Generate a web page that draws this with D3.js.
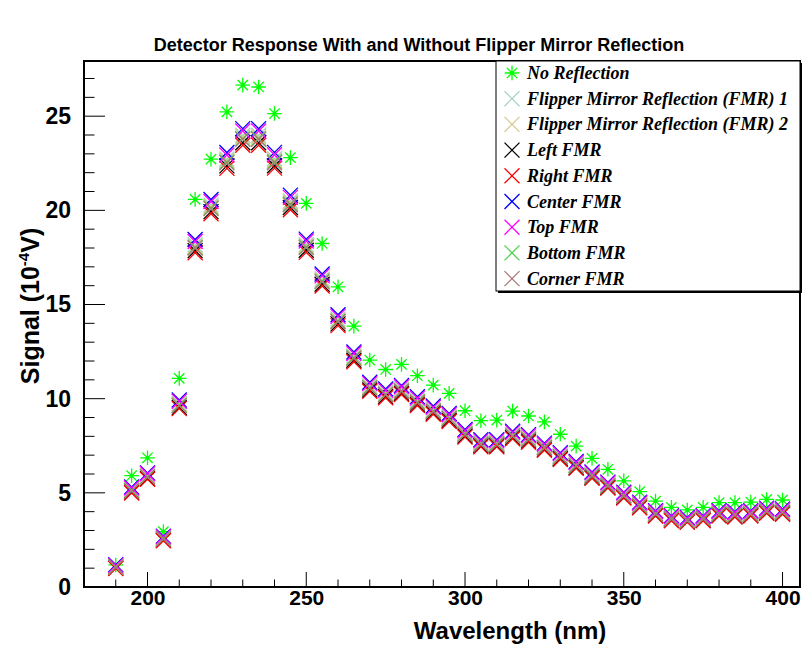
<!DOCTYPE html>
<html>
<head>
<meta charset="utf-8">
<script src="https://cdn.jsdelivr.net/npm/d3@7"></script>
<style>
  html, body { margin: 0; padding: 0; background: #fff; }
  svg { display: block; }
</style>
</head>
<body>
<div id="chart"></div>
<script>
(function () {
  'use strict';

  // ── Data ──
  var WAVELENGTHS = [190, 195, 200, 205, 210, 215, 220, 225, 230, 235, 240, 245, 250, 255, 260, 265, 270, 275, 280, 285,
    290, 295, 300, 305, 310, 315, 320, 325, 330, 335, 340, 345, 350, 355, 360, 365, 370, 375, 380, 385, 390, 395, 400];

  var NO_REFLECTION = [1.17, 5.91, 6.86, 2.94, 11.08, 20.58, 22.72, 25.23, 26.65, 26.55, 25.14, 22.80, 20.37, 18.24, 15.94, 13.85,
    12.05, 11.55, 11.82, 11.22, 10.72, 10.28, 9.36, 8.83, 8.86, 9.34, 9.08, 8.77, 8.11, 7.48, 6.83, 6.25, 5.64, 5.06, 4.56,
    4.23, 4.09, 4.23, 4.48, 4.48, 4.51, 4.65, 4.62];
  var FMR_1 = [1.10, 5.18, 5.92, 2.60, 9.75, 18.17, 20.28, 22.73, 23.99, 23.99, 22.74, 20.50, 18.19, 16.36, 14.23, 12.27, 10.68,
    10.33, 10.51, 9.92, 9.43, 9.04, 8.20, 7.67, 7.67, 8.11, 7.93, 7.49, 6.99, 6.52, 5.97, 5.44, 4.91, 4.38, 3.94, 3.68, 3.59,
    3.68, 3.94, 3.89, 3.94, 4.08, 4.03];
  var FMR_2 = [1.08, 5.15, 5.89, 2.58, 9.70, 18.10, 20.20, 22.65, 23.90, 23.90, 22.66, 20.42, 18.12, 16.30, 14.17, 12.22, 10.63,
    10.28, 10.46, 9.87, 9.39, 9.00, 8.16, 7.63, 7.63, 8.07, 7.89, 7.45, 6.95, 6.48, 5.94, 5.41, 4.88, 4.35, 3.91, 3.65, 3.56,
    3.65, 3.91, 3.86, 3.91, 4.05, 4.00];
  var LEFT_FMR = [1.01, 5.04, 5.77, 2.50, 9.54, 17.86, 19.93, 22.36, 23.59, 23.59, 22.37, 20.15, 17.88, 16.08, 13.97, 12.04, 10.46,
    10.12, 10.29, 9.71, 9.24, 8.85, 8.02, 7.50, 7.50, 7.93, 7.75, 7.32, 6.82, 6.35, 5.82, 5.30, 4.77, 4.24, 3.81, 3.56, 3.47,
    3.56, 3.81, 3.76, 3.81, 3.95, 3.90];
  var RIGHT_FMR = [0.98, 4.99, 5.72, 2.46, 9.47, 17.75, 19.82, 22.23, 23.46, 23.46, 22.24, 20.03, 17.77, 15.98, 13.88, 11.96, 10.39,
    10.05, 10.22, 9.64, 9.17, 8.79, 7.96, 7.44, 7.44, 7.87, 7.69, 7.26, 6.77, 6.30, 5.77, 5.25, 4.73, 4.20, 3.77, 3.52, 3.43,
    3.52, 3.77, 3.72, 3.77, 3.91, 3.86];
  var CENTER_FMR = [1.18, 5.31, 6.06, 2.70, 9.93, 18.45, 20.58, 23.07, 24.34, 24.34, 23.08, 20.81, 18.47, 16.62, 14.46, 12.48, 10.87,
    10.51, 10.70, 10.10, 9.61, 9.21, 8.36, 7.82, 7.82, 8.27, 8.09, 7.64, 7.13, 6.66, 6.11, 5.57, 5.03, 4.50, 4.05, 3.78, 3.69,
    3.78, 4.05, 4.00, 4.05, 4.19, 4.14];
  var TOP_FMR = [1.15, 5.26, 6.01, 2.66, 9.86, 18.35, 20.47, 22.94, 24.21, 24.21, 22.95, 20.69, 18.37, 16.52, 14.37, 12.40, 10.80,
    10.44, 10.63, 10.03, 9.54, 9.15, 8.30, 7.76, 7.76, 8.21, 8.03, 7.58, 7.08, 6.61, 6.06, 5.52, 4.99, 4.46, 4.01, 3.74, 3.65,
    3.74, 4.01, 3.96, 4.01, 4.15, 4.10];
  var BOTTOM_FMR = [1.06, 5.12, 5.86, 2.56, 9.65, 18.03, 20.12, 22.57, 23.81, 23.81, 22.58, 20.34, 18.05, 16.24, 14.11, 12.17, 10.58,
    10.23, 10.41, 9.82, 9.35, 8.96, 8.12, 7.59, 7.59, 8.03, 7.85, 7.41, 6.91, 6.44, 5.91, 5.38, 4.85, 4.32, 3.88, 3.62, 3.53,
    3.62, 3.88, 3.83, 3.88, 4.02, 3.97];
  var CORNER_FMR = [1.05, 5.10, 5.84, 2.54, 9.63, 18.00, 20.09, 22.52, 23.77, 23.77, 22.53, 20.30, 18.02, 16.20, 14.08, 12.14, 10.56,
    10.21, 10.39, 9.80, 9.32, 8.94, 8.10, 7.57, 7.57, 8.01, 7.83, 7.39, 6.90, 6.43, 5.89, 5.36, 4.83, 4.30, 3.87, 3.61, 3.52,
    3.61, 3.87, 3.82, 3.87, 4.01, 3.96];

  var SERIES_NAMES = ['No Reflection', 'Flipper Mirror Reflection (FMR) 1', 'Flipper Mirror Reflection (FMR) 2',
    'Left FMR', 'Right FMR', 'Center FMR', 'Top FMR', 'Bottom FMR', 'Corner FMR'];
  var SERIES_VALUES = [NO_REFLECTION, FMR_1, FMR_2, LEFT_FMR, RIGHT_FMR, CENTER_FMR, TOP_FMR, BOTTOM_FMR, CORNER_FMR];
  var SERIES_COLORS = ['#00ff00', '#a9d3c6', '#d6c894', '#000000', '#ff0000', '#0000ff', '#ff00ff', '#4fd04f', '#a97a78'];
  var SERIES_MARKERS = ['star', 'cross', 'cross', 'cross', 'cross', 'cross', 'cross', 'cross', 'cross'];

  var X_MAJOR = [200, 250, 300, 350, 400];
  var Y_MAJOR = [0, 5, 10, 15, 20, 25];
  var X_DOMAIN = [180, 405.5];
  var Y_DOMAIN = [0, 27.93];

  // ── Layout ──
  var WIDTH = 811, HEIGHT = 646;
  var FRAME = { left: 84, right: 800, top: 61, bottom: 587 };
  var FONT = 'Liberation Sans, Arial, Helvetica, sans-serif';
  var LEGEND_FONT = 'Liberation Serif, Times New Roman, serif';
  var STAR_R = 7.3;
  var CROSS_R = 7.5;

  var svg = d3.select('#chart').append('svg')
    .attr('width', WIDTH)
    .attr('height', HEIGHT);

  svg.append('rect').attr('width', WIDTH).attr('height', HEIGHT).attr('fill', '#fff');

  var x = d3.scaleLinear().domain(X_DOMAIN).range([FRAME.left, FRAME.right]);
  var y = d3.scaleLinear().domain(Y_DOMAIN).range([FRAME.bottom, FRAME.top]);

  // ── Marker paths ──
  function markerPath(type, r) {
    if (type === 'star') {
      var d = r * 0.7071;
      return 'M' + (-r) + ',0L' + r + ',0M0,' + (-r) + 'L0,' + r +
        'M' + (-d) + ',' + (-d) + 'L' + d + ',' + d + 'M' + (-d) + ',' + d + 'L' + d + ',' + (-d);
    }
    return 'M' + (-r) + ',' + (-r) + 'L' + r + ',' + r + 'M' + (-r) + ',' + r + 'L' + r + ',' + (-r);
  }

  function drawMarker(sel, type, color) {
    sel.append('path')
      .attr('d', markerPath(type, type === 'star' ? STAR_R : CROSS_R))
      .attr('stroke', color)
      .attr('stroke-width', 1.3)
      .attr('fill', 'none');
    if (type === 'star') {
      sel.append('circle').attr('r', 2).attr('fill', color);
    }
  }

  // ── Axes ──
  var xMinor = d3.range(190, 401, 10).filter(function (v) { return v % 50 !== 0; });
  var yMinor = d3.range(1, 28, 1).filter(function (v) { return v % 5 !== 0; });

  var xAxis = svg.append('g').attr('transform', 'translate(0,' + FRAME.bottom + ')');
  xAxis.call(d3.axisBottom(x).tickValues(X_MAJOR).tickSize(0).tickPadding(3).tickFormat(d3.format('d')));
  xAxis.select('.domain').remove();
  xAxis.selectAll('.tick text')
    .attr('font-family', FONT).attr('font-weight', 'bold').attr('font-size', 21).attr('fill', '#000');
  xAxis.selectAll('.major').data(X_MAJOR).join('line')
    .attr('x1', function (d) { return x(d); }).attr('x2', function (d) { return x(d); })
    .attr('y1', 0).attr('y2', -15).attr('stroke', '#000').attr('stroke-width', 1);
  xAxis.selectAll('.minor').data(xMinor).join('line')
    .attr('x1', function (d) { return x(d); }).attr('x2', function (d) { return x(d); })
    .attr('y1', 0).attr('y2', -7.5).attr('stroke', '#000').attr('stroke-width', 1);

  var yAxis = svg.append('g').attr('transform', 'translate(' + FRAME.left + ',0)');
  yAxis.call(d3.axisLeft(y).tickValues(Y_MAJOR).tickSize(0).tickPadding(13).tickFormat(d3.format('d')));
  yAxis.select('.domain').remove();
  yAxis.selectAll('.tick text')
    .attr('font-family', FONT).attr('font-weight', 'bold').attr('font-size', 23).attr('fill', '#000');
  yAxis.selectAll('.major').data(Y_MAJOR.slice(1)).join('line')
    .attr('x1', 0).attr('x2', 21)
    .attr('y1', function (d) { return y(d); }).attr('y2', function (d) { return y(d); })
    .attr('stroke', '#000').attr('stroke-width', 1);
  yAxis.selectAll('.minor').data(yMinor).join('line')
    .attr('x1', 0).attr('x2', 10.5)
    .attr('y1', function (d) { return y(d); }).attr('y2', function (d) { return y(d); })
    .attr('stroke', '#000').attr('stroke-width', 1);

  // Frame
  svg.append('rect')
    .attr('x', FRAME.left).attr('y', FRAME.top)
    .attr('width', FRAME.right - FRAME.left).attr('height', FRAME.bottom - FRAME.top)
    .attr('fill', 'none').attr('stroke', '#000').attr('stroke-width', 2);

  // Axis titles
  svg.append('text')
    .attr('x', 510).attr('y', 639)
    .attr('text-anchor', 'middle')
    .attr('font-family', FONT).attr('font-weight', 'bold').attr('font-size', 24)
    .text('Wavelength (nm)');

  var yTitle = svg.append('text')
    .attr('transform', 'translate(39,306) rotate(-90)')
    .attr('text-anchor', 'middle')
    .attr('font-family', FONT).attr('font-weight', 'bold').attr('font-size', 25);
  yTitle.append('tspan').text('Signal (10');
  yTitle.append('tspan').attr('font-size', 15).attr('dy', -10).text('-4');
  yTitle.append('tspan').attr('dy', 10).text('V)');

  // Title
  svg.append('text')
    .attr('x', 419).attr('y', 51)
    .attr('text-anchor', 'middle')
    .attr('font-family', FONT).attr('font-weight', 'bold').attr('font-size', 18)
    .text('Detector Response With and Without Flipper Mirror Reflection');

  // ── Points ──
  var plot = svg.append('g');
  SERIES_VALUES.forEach(function (values, i) {
    var pts = plot.append('g').selectAll('g')
      .data(WAVELENGTHS.map(function (w, j) { return { w: w, v: values[j] }; }))
      .join('g')
      .attr('transform', function (d) { return 'translate(' + x(d.w) + ',' + y(d.v) + ')'; });
    pts.each(function () { drawMarker(d3.select(this), SERIES_MARKERS[i], SERIES_COLORS[i]); });
  });

  // ── Legend ──
  var LEG = { x: 496, y: 61, w: 304, h: 230, row: 25.7, first: 73 };
  svg.append('rect')
    .attr('x', LEG.x + 2).attr('y', LEG.y + 2).attr('width', LEG.w).attr('height', LEG.h)
    .attr('fill', '#000');
  svg.append('rect')
    .attr('x', LEG.x).attr('y', LEG.y).attr('width', LEG.w).attr('height', LEG.h)
    .attr('fill', '#fff').attr('stroke', '#000').attr('stroke-width', 1);

  SERIES_NAMES.forEach(function (name, i) {
    var row = svg.append('g').attr('transform', 'translate(' + (LEG.x + 16) + ',' + (LEG.first + i * LEG.row) + ')');
    drawMarker(row, SERIES_MARKERS[i], SERIES_COLORS[i]);
    row.append('text')
      .attr('x', 15).attr('y', 6)
      .attr('font-family', LEGEND_FONT).attr('font-weight', 'bold').attr('font-style', 'italic')
      .attr('font-size', 18)
      .text(name);
  });
})();
</script>
</body>
</html>
